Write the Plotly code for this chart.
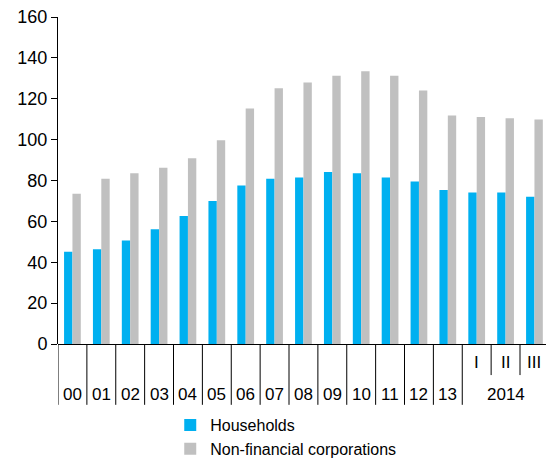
import plotly.graph_objects as go

# Annual data 2000-2013, then quarters of 2014
year_labels = ["00", "01", "02", "03", "04", "05", "06", "07", "08", "09",
               "10", "11", "12", "13"]
quarter_labels = ["I", "II", "III"]
quarter_year = "2014"

households = [45.1, 46.4, 50.7, 56.1, 62.6, 70.0, 77.6, 80.8, 81.5, 84.2,
              83.6, 81.5, 79.5, 75.4, 74.1, 74.1, 72.0]
non_financial = [73.5, 80.8, 83.6, 86.2, 90.9, 99.7, 115.2, 125.1, 127.9, 131.3,
                 133.4, 131.3, 124.0, 111.8, 111.1, 110.5, 109.8]

y_ticks = [0, 20, 40, 60, 80, 100, 120, 140, 160]

FONT = "Arial, Liberation Sans, sans-serif"
LABEL_SIZE = 17
n = len(households)
xs = list(range(n))

fig = go.Figure()
fig.add_trace(go.Bar(x=xs, y=households, name="Households",
                     marker=dict(color="#00B0F0", line=dict(width=0))))
fig.add_trace(go.Bar(x=xs, y=non_financial, name="Non-financial corporations",
                     marker=dict(color="#C0C0C0", line=dict(width=0))))

# Category separators below the axis: long ones for years, short ones between quarters
n_years = len(year_labels)
shapes = []
for i in range(n_years + 1):
    shapes.append(dict(type="line", xref="x", yref="paper",
                       x0=i - 0.5, x1=i - 0.5, y0=0, y1=-0.186,
                       line=dict(color="black", width=1)))
for j in range(1, len(quarter_labels)):
    xb = n_years + j - 0.5
    shapes.append(dict(type="line", xref="x", yref="paper",
                       x0=xb, x1=xb, y0=0, y1=-0.095,
                       line=dict(color="black", width=1)))

annotations = []
for i, lab in enumerate(year_labels):
    annotations.append(dict(x=i, y=-0.153, xref="x", yref="paper", text=lab,
                            showarrow=False, font=dict(size=LABEL_SIZE, color="black"),
                            xanchor="center", yanchor="middle"))
for j, lab in enumerate(quarter_labels):
    annotations.append(dict(x=n_years + j, y=-0.058, xref="x", yref="paper", text=lab,
                            showarrow=False, font=dict(size=LABEL_SIZE, color="black"),
                            xanchor="center", yanchor="middle"))
annotations.append(dict(x=n_years + 1, y=-0.153, xref="x", yref="paper",
                        text=quarter_year, showarrow=False,
                        font=dict(size=LABEL_SIZE, color="black"),
                        xanchor="center", yanchor="middle"))

fig.update_layout(
    width=546, height=458,
    margin=dict(l=58, r=0, t=17, b=114, autoexpand=False),
    paper_bgcolor="white", plot_bgcolor="white",
    font=dict(family=FONT, size=LABEL_SIZE, color="black"),
    barmode="group", bargap=0.42, bargroupgap=0,
    showlegend=True,
    legend=dict(orientation="v", x=0.23, xanchor="left", y=-0.196, yanchor="top",
                font=dict(size=16, color="black"), tracegroupgap=0,
                bgcolor="rgba(0,0,0,0)", itemwidth=30),
    shapes=shapes,
    annotations=annotations,
)
fig.update_xaxes(range=[-0.5, n - 0.6], showticklabels=False, ticks="",
                 showgrid=False, zeroline=False, showline=False, fixedrange=True)
fig.update_yaxes(range=[0, 160], tickvals=y_ticks, showgrid=False, zeroline=True,
                 zerolinecolor="black", zerolinewidth=1,
                 showline=True, linecolor="black", linewidth=1,
                 ticks="outside", ticklen=6, tickcolor="black",
                 tickfont=dict(size=18, color="black"))

fig.write_html("out.html")
